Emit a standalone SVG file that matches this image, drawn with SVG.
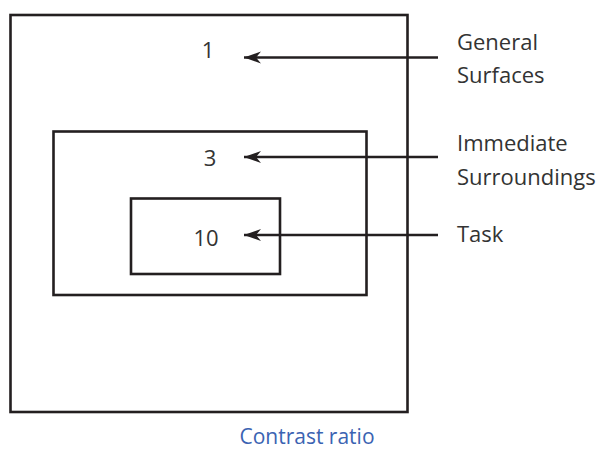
<svg xmlns="http://www.w3.org/2000/svg" width="597" height="450" viewBox="0 0 597 450">
<style>
.box{fill:none;stroke:#231f20;stroke-width:2.6}
.conn{stroke:#231f20;stroke-width:2.4;fill:none}
.num{font-family:"Open Sans","Liberation Sans",sans-serif;font-size:22px;fill:#333;text-anchor:middle}
.lbl{font-family:"Open Sans","Liberation Sans",sans-serif;font-size:22px;fill:#333}
.cap{font-family:"Open Sans","Liberation Sans",sans-serif;font-size:21px;fill:#3b63b2;text-anchor:middle}
</style>
<defs>
<marker id="ah" markerUnits="userSpaceOnUse" markerWidth="18" markerHeight="14" refX="17" refY="7" orient="auto">
<path d="M17,7 L0,1 L5,7 L0,13 Z" fill="#231f20"/>
</marker>
</defs>
<g id="outer"><rect class="box" x="10.5" y="15" width="397" height="397"/><text class="num" x="208" y="58">1</text></g>
<g id="middle"><rect class="box" x="53.5" y="131.5" width="313" height="163.5"/><text class="num" x="210" y="166">3</text></g>
<g id="inner"><rect class="box" x="131" y="198.5" width="149" height="75.5"/><text class="num" x="206" y="246">10</text></g>
<g id="connectors">
<line class="conn" x1="438" y1="57.5" x2="244" y2="57.5" marker-end="url(#ah)"/>
<line class="conn" x1="438" y1="157" x2="244" y2="157" marker-end="url(#ah)"/>
<line class="conn" x1="438" y1="235" x2="244" y2="235" marker-end="url(#ah)"/>
</g>
<g id="label-general"><text class="lbl" x="457" y="50">General</text><text class="lbl" x="457" y="83">Surfaces</text></g>
<g id="label-immediate"><text class="lbl" x="457" y="151">Immediate</text><text class="lbl" x="457" y="185">Surroundings</text></g>
<g id="label-task"><text class="lbl" x="457" y="242">Task</text></g>
<g id="caption"><text class="cap" x="307" y="444">Contrast ratio</text></g>
</svg>
